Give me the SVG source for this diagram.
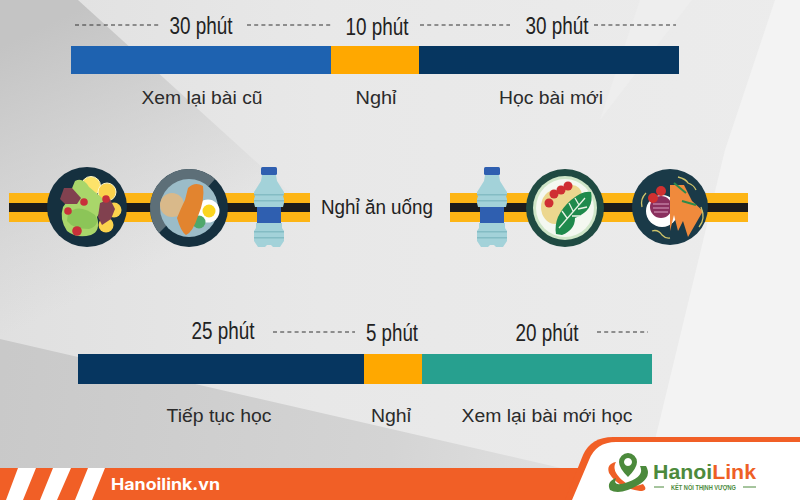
<svg xmlns="http://www.w3.org/2000/svg" width="800" height="500" viewBox="0 0 800 500">
<defs>
<linearGradient id="bg" x1="0" y1="0" x2="1" y2="0"><stop offset="0" stop-color="#e0e0e0"/><stop offset="0.4" stop-color="#e8e8e8"/><stop offset="1" stop-color="#ececec"/></linearGradient>
<linearGradient id="tri" gradientUnits="userSpaceOnUse" x1="148" y1="268" x2="35" y2="30"><stop offset="0" stop-color="#c8c8c8" stop-opacity="0"/><stop offset="1" stop-color="#c4c4c4" stop-opacity="1"/></linearGradient>
<linearGradient id="low" gradientUnits="userSpaceOnUse" x1="0" y1="400" x2="560" y2="460"><stop offset="0" stop-color="#c9c9c9"/><stop offset="0.7" stop-color="#d4d4d4"/><stop offset="1" stop-color="#e0e0e0"/></linearGradient>
<g id="bottle">
<rect x="-8" y="-28" width="16" height="8" rx="1.5" fill="#2f5fb0"/>
<path d="M-7-20H7L8-14 13-6 15-3V-1L14 1 15 4V8L14 12H-14L-15 8V4L-14 1-15-1V-3L-13-6-8-14Z" fill="#a3d2d9"/>
<rect x="-15" y="-1" width="30" height="1.5" fill="#84bcc4"/><rect x="-15" y="5" width="30" height="1.5" fill="#84bcc4"/>
<rect x="-12" y="12" width="24" height="16" fill="#2f5fb0"/>
<path d="M-13 28H13V33L15 36V46L11 52H4L2 50H-2L-4 52H-11L-15 46V36L-13 33Z" fill="#a3d2d9"/>
<rect x="-15" y="36" width="30" height="1.5" fill="#84bcc4"/><rect x="-15" y="42" width="30" height="1.5" fill="#84bcc4"/>
</g>
</defs>
<style>
text{font-family:"Liberation Sans",Arial,sans-serif;fill:#222}
.t{font-size:23px;text-anchor:middle}
.l{font-size:18px;text-anchor:middle;fill:#2b2b2b}
.d{stroke:#333;stroke-width:1;stroke-dasharray:4 3.2;fill:none}
</style>
<g id="background">
<rect width="800" height="500" fill="url(#bg)"/>
<path d="M0 0H78L296 198 0 339Z" fill="url(#tri)"/>
<path d="M0 339 600 477V480H0Z" fill="url(#low)"/>
<path d="M692 0 600 120 640 0Z" fill="#eeeeee"/>
<path d="M775 0 725 150 655 440 800 440V0Z" fill="#f3f3f3"/>
</g>
<g id="connectors">
<path class="d" d="M75 25H161M247 25H333M420 25H510M594 25H676M273 332H355M597 332H648"/>
</g>
<g id="bar-1">
<rect x="71" y="46" width="260" height="28" fill="#1e62b0"/><rect x="331" y="46" width="88" height="28" fill="#ffa800"/><rect x="419" y="46" width="260" height="28" fill="#063660"/>
<text class="t" x="201" y="34" textLength="63" lengthAdjust="spacingAndGlyphs">30 phút</text>
<text class="t" x="377" y="35" textLength="63" lengthAdjust="spacingAndGlyphs">10 phút</text>
<text class="t" x="557" y="34" textLength="63" lengthAdjust="spacingAndGlyphs">30 phút</text>
<text class="l" x="202" y="104" textLength="121" lengthAdjust="spacingAndGlyphs">Xem lại bài cũ</text><text class="l" x="376" y="104" textLength="41" lengthAdjust="spacingAndGlyphs">Nghỉ</text><text class="l" x="551" y="104" textLength="104" lengthAdjust="spacingAndGlyphs">Học bài mới</text>
</g>
<g id="meal-band">
<g id="band-left"><rect x="9" y="193" width="301" height="29" fill="#fdb515"/><rect x="9" y="203" width="301" height="9" fill="#1c1c1c"/></g>
<g id="band-right"><rect x="450" y="193" width="298" height="29" fill="#fdb515"/><rect x="450" y="203" width="298" height="9" fill="#1c1c1c"/></g>
</g>
<g id="plate-1" transform="translate(87 207)">
<circle r="40" fill="#15303f"/>
<circle cx="4" cy="-21" r="9.5" fill="#fde36a" stroke="#fff8c8"/><circle cx="20" cy="-15" r="9" fill="#fbd34d" stroke="#fff8c8"/><circle cx="27" cy="3" r="7.5" fill="#fbd34d"/><circle cx="19" cy="18" r="7.5" fill="#fbd34d"/>
<path d="M-12-26Q-4-30 2-20L14-10Q20-4 14 4L10 10Q14 24 4 28-10 32-20 24-28 12-24 0L-18-8Q-16-18-12-26Z" fill="#a9d66a"/>
<path d="M-19 6Q-8-4 8 8 14 18 2 22-14 22-20 14Z" fill="#8cc558"/>
<path d="M-27-8-23-19-15-19-6-9-10-3-22-3Z" fill="#81414f"/><path d="M11 10 13-4 23-8 28 2 24 12 15 18Z" fill="#81414f"/>
<circle cx="-3" cy="-5" r="3.8" fill="#c8303a"/><circle cx="-19" cy="4" r="3.8" fill="#c8303a"/><circle cx="19" cy="-8" r="3.8" fill="#c8303a"/><circle cx="-10" cy="24" r="4.8" fill="#c8303a"/>
</g>
<g id="plate-2" transform="translate(189 208)">
<circle r="39" fill="#15303f"/><path d="M-30 25A39 39 0 0 1 26-29L18-20A29 29 0 0 0-22 17Z" fill="#5d6f78"/>
<circle r="29" fill="#9bbcc8"/>
<circle cx="19" cy="3" r="11.5" fill="#fff"/><circle cx="20" cy="3" r="6.5" fill="#fbd51f"/><circle cx="10" cy="14" r="6.5" fill="#4fa86b"/>
<ellipse cx="-17" cy="-3" rx="12" ry="12" fill="#d9b98a"/>
<path d="M-1-20Q6-27 14-22 16-8 9 8 4 24-3 27-8 24-12 10-8 0-4-8-1-20Z" fill="#e2842f"/>
</g>
<use id="bottle-1" href="#bottle" x="269" y="195"/>
<g id="label-meal"><text x="377" y="214" font-size="20" text-anchor="middle" textLength="112" lengthAdjust="spacingAndGlyphs">Nghỉ ăn uống</text></g>
<use id="bottle-2" href="#bottle" x="492" y="195"/>
<g id="plate-3" transform="translate(565 208)">
<circle r="39" fill="#1f4a42"/><circle r="32" fill="#cfe6c8"/><circle r="29" fill="#f4f8f1"/>
<ellipse cx="-10" cy="-1" rx="14" ry="17" fill="#ecd78e"/><ellipse cx="7" cy="-13" rx="10" ry="10" fill="#ecd78e"/>
<circle cx="-16" cy="-5" r="4.5" fill="#cf2f33"/><circle cx="-11" cy="-14" r="4.5" fill="#cf2f33"/><circle cx="-4" cy="-18" r="4.5" fill="#cf2f33"/><circle cx="3" cy="-22" r="4.5" fill="#cf2f33"/>
<path d="M-9 26Q-12 8 6-8 18-18 26-16 30 2 10 10 10 22-3 27Z" fill="#1f8a4c"/>
<path d="M-6 20 20-10M2 10-3 3M8 3 4-5M14-3 10-10M7 8 15 8M13 1 22-1" stroke="#e8f3e4" stroke-width="1.3" fill="none"/>
</g>
<g id="plate-4" transform="translate(670 207)">
<circle r="38" fill="#1a3a48"/>
<circle cx="-8" cy="4" r="16" fill="#fff"/><circle cx="-9" cy="0" r="11" fill="#8a2f5e"/>
<path d="M-17-3H-1M-17 1H-1M-16 5H-2" stroke="#d9a0c0" stroke-width="1"/>
<circle cx="-17" cy="-9" r="5" fill="#d03030"/><circle cx="-9" cy="-16" r="5" fill="#d03030"/>
<path d="M0-22 14-22 22-6 33 4 18 30 13 14 8 24 4 8 0 24Z" fill="#f08a3c"/>
<path d="M4-24 16-14M12-6 26-2" stroke="#2f8a4c" stroke-width="2" fill="none"/>
<path d="M8-30Q16-28 18-24 24-22 26-17M-28 0Q-30-8-24-14M-18 24Q-12 22-8 28-4 32 0 31M31 0Q36 12 29 20" stroke="#cfc46a" stroke-width="1.3" fill="none"/>
</g>
<g id="bar-2">
<rect x="78" y="354" width="286" height="30" fill="#063660"/><rect x="364" y="354" width="58" height="30" fill="#ffa800"/><rect x="422" y="354" width="230" height="30" fill="#27a08f"/>
<text class="t" x="223" y="339" textLength="63" lengthAdjust="spacingAndGlyphs">25 phút</text>
<text class="t" x="392" y="341" textLength="52" lengthAdjust="spacingAndGlyphs">5 phút</text>
<text class="t" x="547" y="341" textLength="63" lengthAdjust="spacingAndGlyphs">20 phút</text>
<text class="l" x="219" y="422" textLength="105" lengthAdjust="spacingAndGlyphs">Tiếp tục học</text><text class="l" x="391" y="422" textLength="40" lengthAdjust="spacingAndGlyphs">Nghỉ</text><text class="l" x="547" y="422" textLength="171" lengthAdjust="spacingAndGlyphs">Xem lại bài mới học</text>
</g>
<g id="footer">
<rect y="468" width="800" height="32" fill="#f15f26"/>
<path d="M18 468H36L23 500H6ZM53 468H71L57 500H40ZM88 468H105L92 500H75Z" fill="#fff"/>
<text x="111" y="490" font-size="16" font-weight="700" textLength="109" lengthAdjust="spacingAndGlyphs" style="font-family:Inter,'Liberation Sans',sans-serif;fill:#fff">Hanoilink.vn</text>
<path d="M565 500 583 455Q591 437 613 437H800V500Z" fill="#f15f26"/>
<path d="M572 500 589 460Q596 442 616 442H800V500Z" fill="#fff"/>
</g>
<g id="logo">
<path d="M616 462Q606 464 609 473 618 488 640 491 649 491 643 484 632 489 622 480 611 470 616 462Z" fill="#ee5f26"/>
<path d="M646 466Q652 476 640 484 620 496 610 490 606 482 616 478 612 488 628 482 645 476 640 466Z" fill="#4c8a3c"/>
<path d="M628 453a9 9 0 0 1 9 9q0 6-9 15-9-9-9-15a9 9 0 0 1 9-9Zm0 5a4 4 0 1 0 .01 0Z" fill="#4c8a3c" fill-rule="evenodd"/>
<text x="653" y="479" font-size="21" font-weight="700" textLength="103" lengthAdjust="spacingAndGlyphs" style="fill:#4c8a3c">Hanoi<tspan style="fill:#ee5f26">Link</tspan></text>
<path d="M654 487H664M743 487H756" stroke="#4c8a3c" stroke-width="1"/>
<text x="671" y="490" font-size="6.5" font-weight="700" textLength="65" lengthAdjust="spacingAndGlyphs" style="fill:#4c8a3c">KẾT NỐI THỊNH VƯỢNG</text>
</g>
</svg>
